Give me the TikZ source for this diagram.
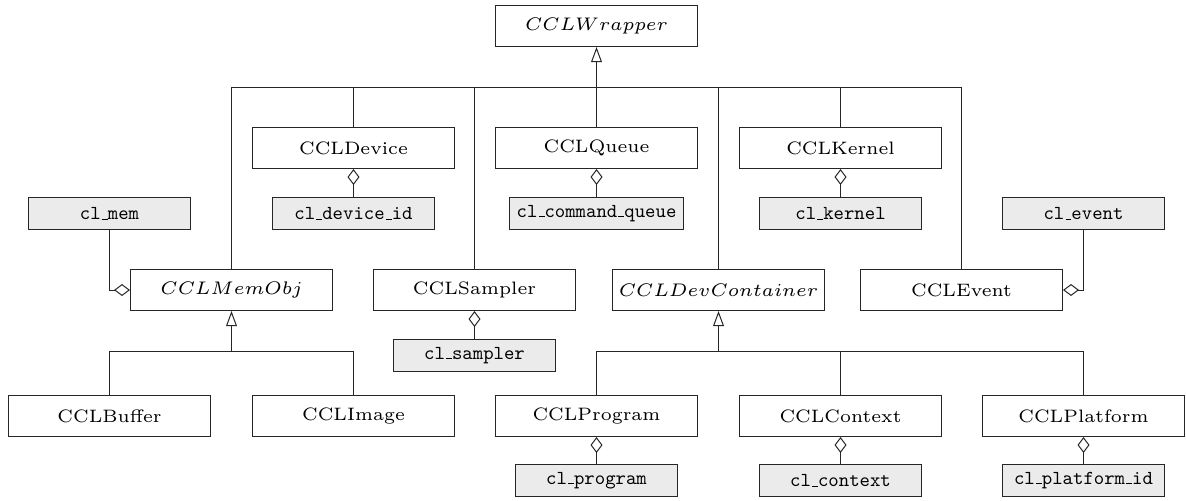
\documentclass[tikz,border=0pt]{standalone}
\usetikzlibrary{arrows.meta}
\newcommand{\rmtxt}[1]{\scalebox{1.5}{\fontsize{6}{7}\selectfont #1}}
\newcommand{\mtxt}[1]{\scalebox{1.52}{\fontsize{6}{7}\selectfont $#1$}}
\newcommand{\us}{\kern.06em\vbox{\hrule width.3em height 0.5pt}}
\tikzset{
  cls/.style={draw=black!85, line width=0.5pt, fill=white, minimum width=101pt, minimum height=20.5pt, inner xsep=3pt},
  prim/.style={draw=black!85, line width=0.5pt, fill=black!8, minimum width=81pt, minimum height=16pt, inner xsep=3.4pt, font=\fontsize{9.9}{11}\selectfont\ttfamily},
  conn/.style={draw=black!85, line width=0.5pt},
  inh/.style={conn, -{Triangle[open, length=7.5pt, width=5.4pt]}},
  agg/.style={conn, {Diamond[open, length=8pt, width=6pt]}-},
}
\begin{document}
\begin{tikzpicture}[x=0.5pt, y=-0.5pt]
\useasboundingbox (0,0) rectangle (1186,500);
% top
\node[cls] (wrap) at (596.5,26) {\mtxt{CCLWrapper}};
% row A
\node[cls] (dev) at (353.5,148) {\rmtxt{CCLDevice}};
\node[cls] (queue) at (596.5,148) {\rmtxt{CCLQueue}};
\node[cls] (kern) at (840.5,148) {\rmtxt{CCLKernel}};
% grey row 1
\node[prim] (clmem) at (109.5,213.5) {cl\us mem};
\node[prim] (cldev) at (353.5,213.5) {cl\us device\us id};
\node[prim] (clqueue) at (596.5,213.5) {cl\us command\us queue};
\node[prim] (clkern) at (840.5,213.5) {cl\us kernel};
\node[prim] (clevent) at (1083.5,213.5) {cl\us event};
% row B
\node[cls] (memobj) at (231.5,290) {\mtxt{CCLMemObj}};
\node[cls] (sampler) at (474.5,290) {\rmtxt{CCLSampler}};
\node[cls] (devcont) at (718.5,290) {\mtxt{CCLDevContainer}};
\node[cls] (event) at (961.5,290) {\rmtxt{CCLEvent}};
\node[prim] (clsampler) at (474.5,355.5) {cl\us sampler};
% row C
\node[cls] (buffer) at (109.5,416) {\rmtxt{CCLBuffer}};
\node[cls] (image) at (353.5,416) {\rmtxt{CCLImage}};
\node[cls] (program) at (596.5,416) {\rmtxt{CCLProgram}};
\node[cls] (context) at (840.5,416) {\rmtxt{CCLContext}};
\node[cls] (platform) at (1083.5,416) {\rmtxt{CCLPlatform}};
% grey row 2
\node[prim] (clprogram) at (596.5,480.5) {cl\us program};
\node[prim] (clcontext) at (840.5,480.5) {cl\us context};
\node[prim] (clplatform) at (1083.5,480.5) {cl\us platform\us id};

% inheritance from CCLWrapper
\coordinate (wbus) at (596.5,87.5);
\draw[inh] (queue.north) -- (wrap.south);
\draw[conn] (memobj.north) |- (wbus);
\draw[conn] (event.north) |- (wbus);
\draw[conn] (dev.north) -- (dev.north |- wbus);
\draw[conn] (sampler.north) -- (sampler.north |- wbus);
\draw[conn] (devcont.north) -- (devcont.north |- wbus);
\draw[conn] (kern.north) -- (kern.north |- wbus);

% inheritance from CCLMemObj
\coordinate (mbus) at (231.5,351.5);
\draw[inh] (mbus) -- (memobj.south);
\draw[conn] (buffer.north) |- (mbus);
\draw[conn] (image.north) |- (mbus);

% inheritance from CCLDevContainer
\coordinate (dbus) at (718.5,351.5);
\draw[inh] (dbus) -- (devcont.south);
\draw[conn] (program.north) |- (dbus);
\draw[conn] (platform.north) |- (dbus);
\draw[conn] (context.north) -- (context.north |- dbus);

% aggregations
\draw[agg] (dev) -- (cldev);
\draw[agg] (queue) -- (clqueue);
\draw[agg] (kern) -- (clkern);
\draw[agg] (sampler) -- (clsampler);
\draw[agg] (program) -- (clprogram);
\draw[agg] (context) -- (clcontext);
\draw[agg] (platform) -- (clplatform);
\draw[agg] (memobj.west) -| (clmem.south);
\draw[agg] (event.east) -| (clevent.south);
\end{tikzpicture}
\end{document}
